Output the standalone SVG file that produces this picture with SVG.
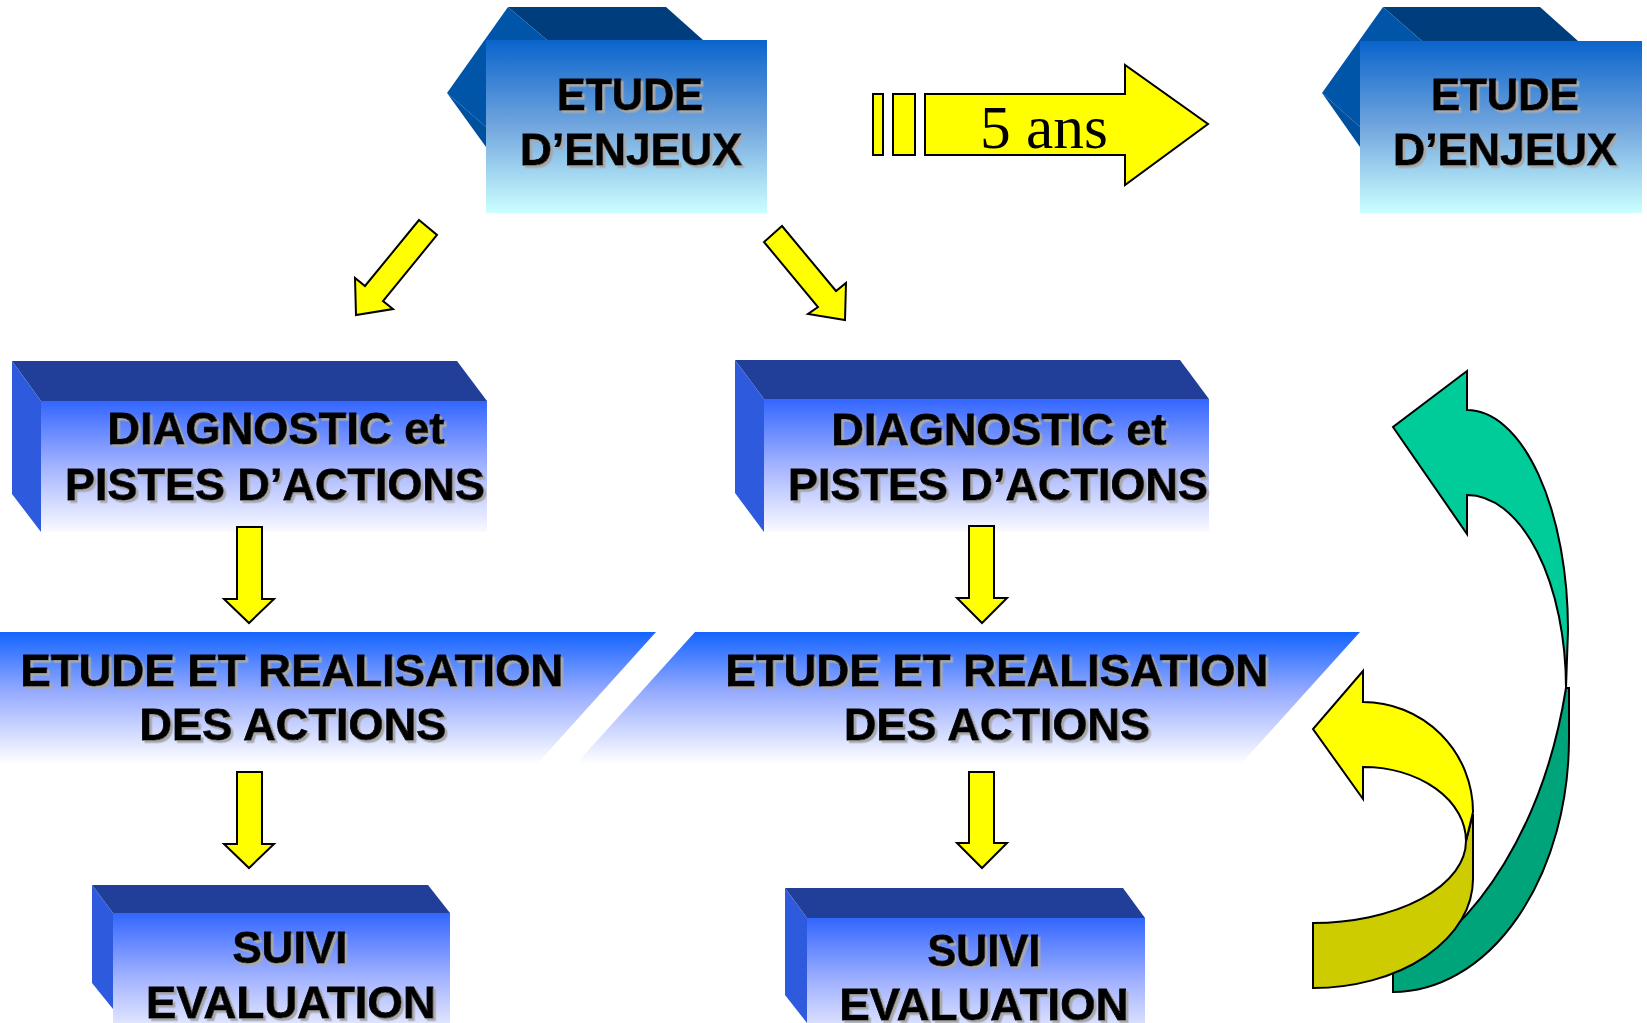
<svg xmlns="http://www.w3.org/2000/svg" width="1647" height="1023" viewBox="0 0 1647 1023">
<defs>
  <linearGradient id="gEnj" x1="0" y1="0" x2="0" y2="1">
    <stop offset="0" stop-color="#0A64CC"/>
    <stop offset="0.5" stop-color="#72A6DE"/>
    <stop offset="1" stop-color="#CCFFFF"/>
  </linearGradient>
  <linearGradient id="gBox" x1="0" y1="0" x2="0" y2="1">
    <stop offset="0" stop-color="#3366FF"/>
    <stop offset="0.5" stop-color="#A3B3FF"/>
    <stop offset="1" stop-color="#FAFAFF"/>
  </linearGradient>
  <linearGradient id="gReal" x1="0" y1="0" x2="0" y2="1">
    <stop offset="0" stop-color="#1464FF"/>
    <stop offset="0.45" stop-color="#95AAFF"/>
    <stop offset="1" stop-color="#FFFFFF"/>
  </linearGradient>
  <filter id="shadow" x="-5%" y="-20%" width="110%" height="140%">
    <feDropShadow dx="2.5" dy="2.5" stdDeviation="0.4" flood-color="#A8A8A8" flood-opacity="1"/>
  </filter>
</defs>
<style>
  .lbl { font-family: "Liberation Sans", Arial, sans-serif; font-weight: bold; font-size: 45px; fill: #000; stroke: #000; stroke-width: 0.8; text-anchor: middle; filter: url(#shadow); }
  .ans { font-family: "Liberation Serif", "Times New Roman", serif; font-size: 62px; fill: #000; text-anchor: middle; }
  .yel { fill: #FFFF00; stroke: #000; stroke-width: 2; stroke-linejoin: miter; }
  .yelD { fill: #CCCC00; stroke: #000; stroke-width: 2; }
  .grnL { fill: #00CC99; stroke: #000; stroke-width: 2; }
  .grnD { fill: #00A47A; stroke: #000; stroke-width: 2; }
  .encTop { fill: #003D7D; }
  .encLeft { fill: #0055A8; }
  .encLeft2 { fill: #0050A0; }
  .boxTop { fill: #213F99; }
  .boxLeft { fill: #2E5BDD; }
</style>

<g id="etude-enjeux-1">
  <polygon class="encTop" points="508,7 666,7 703,40 547,40"/>
  <polygon class="encLeft" points="508,7 547,40 486,40 486,127 447,93"/>
  <polygon class="encLeft2" points="447,93 486,127 486,147"/>
  <rect x="486" y="40" width="281" height="173" fill="url(#gEnj)"/>
  <text class="lbl" x="630" y="110" textLength="146" lengthAdjust="spacingAndGlyphs">ETUDE</text>
  <text class="lbl" x="631" y="165" textLength="222" lengthAdjust="spacingAndGlyphs">D’ENJEUX</text>
</g>

<g id="etude-enjeux-2">
  <polygon class="encTop" points="1383,7 1540,7 1578,41 1422,41"/>
  <polygon class="encLeft" points="1383,7 1422,41 1360,41 1360,127 1322,93"/>
  <polygon class="encLeft2" points="1322,93 1360,127 1360,147"/>
  <rect x="1360" y="41" width="282" height="172" fill="url(#gEnj)"/>
  <text class="lbl" x="1505" y="110" textLength="148" lengthAdjust="spacingAndGlyphs">ETUDE</text>
  <text class="lbl" x="1505" y="165" textLength="224" lengthAdjust="spacingAndGlyphs">D’ENJEUX</text>
</g>

<g id="diagnostic-1">
  <polygon class="boxTop" points="12,361 457,361 487,401 41,401"/>
  <polygon class="boxLeft" points="12,361 41,401 41,532 12,494"/>
  <rect x="41" y="401" width="446" height="131" fill="url(#gBox)"/>
  <text class="lbl" x="276" y="444" textLength="337" lengthAdjust="spacingAndGlyphs">DIAGNOSTIC et</text>
  <text class="lbl" x="275" y="500" textLength="420" lengthAdjust="spacingAndGlyphs">PISTES D’ACTIONS</text>
</g>

<g id="diagnostic-2">
  <polygon class="boxTop" points="735,360 1180,360 1209,399 764,399"/>
  <polygon class="boxLeft" points="735,360 764,399 764,532 735,493"/>
  <rect x="764" y="399" width="445" height="133" fill="url(#gBox)"/>
  <text class="lbl" x="999" y="445" textLength="335" lengthAdjust="spacingAndGlyphs">DIAGNOSTIC et</text>
  <text class="lbl" x="998" y="500" textLength="420" lengthAdjust="spacingAndGlyphs">PISTES D’ACTIONS</text>
</g>

<g id="realisation-1">
  <polygon points="0,632 656,632 537,764 0,764" fill="url(#gReal)"/>
  <text class="lbl" x="292" y="686" textLength="543" lengthAdjust="spacingAndGlyphs">ETUDE ET REALISATION</text>
  <text class="lbl" x="293" y="740" textLength="307" lengthAdjust="spacingAndGlyphs">DES ACTIONS</text>
</g>

<g id="realisation-2">
  <polygon points="695,632 1360,632 1241,764 576,764" fill="url(#gReal)"/>
  <text class="lbl" x="997" y="686" textLength="543" lengthAdjust="spacingAndGlyphs">ETUDE ET REALISATION</text>
  <text class="lbl" x="997" y="740" textLength="306" lengthAdjust="spacingAndGlyphs">DES ACTIONS</text>
</g>

<g id="suivi-1">
  <polygon class="boxTop" points="92,885 428,885 450,913 113,913"/>
  <polygon class="boxLeft" points="92,885 113,913 113,1009 92,983"/>
  <rect x="113" y="913" width="337" height="130" fill="url(#gBox)"/>
  <text class="lbl" x="290" y="963" textLength="115" lengthAdjust="spacingAndGlyphs">SUIVI</text>
  <text class="lbl" x="291" y="1018" textLength="290" lengthAdjust="spacingAndGlyphs">EVALUATION</text>
</g>

<g id="suivi-2">
  <polygon class="boxTop" points="785,888 1123,888 1145,918 807,918"/>
  <polygon class="boxLeft" points="785,888 807,918 807,1023 785,995"/>
  <rect x="807" y="918" width="338" height="130" fill="url(#gBox)"/>
  <text class="lbl" x="984" y="966" textLength="113" lengthAdjust="spacingAndGlyphs">SUIVI</text>
  <text class="lbl" x="984" y="1020" textLength="289" lengthAdjust="spacingAndGlyphs">EVALUATION</text>
</g>

<g id="connectors">
  <!-- 5 ans arrow -->
  <rect class="yel" x="873" y="94" width="10" height="61" stroke-width="1.5"/>
  <rect class="yel" x="893" y="94" width="22" height="61" stroke-width="1.5"/>
  <polygon class="yel" points="925,94 1125,94 1125,65 1208,124 1125,185 1125,155 925,155" stroke-width="1.5"/>
  <text class="ans" x="1044" y="148" textLength="128" lengthAdjust="spacingAndGlyphs">5 ans</text>

  <!-- diagonal arrows -->
  <polygon class="yel" points="419,220 437,235 383,301 393,309 356,315 355,278 365,286"/>
  <polygon class="yel" points="782,226 836,291 846,283 845,320 808,314 818,307 764,242"/>

  <!-- vertical arrows left -->
  <polygon class="yel" points="237,527 262,527 262,599 274,599 249,623 224,599 237,599"/>
  <polygon class="yel" points="237,772 262,772 262,844 274,844 249,868 224,844 237,844"/>
  <!-- vertical arrows right -->
  <polygon class="yel" points="969,526 994,526 994,598 1007,598 982,623 957,598 969,598"/>
  <polygon class="yel" points="969,772 994,772 994,843 1007,843 982,868 957,843 969,843"/>

  <!-- green curved arrow -->
  <path class="grnD" d="M1566,688 L1569,688 L1569,738 A176,254 0 0 1 1393,992 L1393,970 C1480,930 1545,820 1566,688 Z"/>
  <path class="grnL" d="M1467,371 L1393,427 L1467,534 L1467,495 A99,193 0 0 1 1566,688 L1568,630 A101,220 0 0 0 1467,410 Z"/>

  <!-- yellow curved arrow -->
  <path class="yelD" d="M1466,841 L1473,814 L1473,879 A160,109 0 0 1 1313,988 L1313,923 A153,82 0 0 0 1466,841 Z"/>
  <path class="yel" d="M1363,671 L1313,729 L1363,799 L1363,767 A103,74 0 0 1 1466,841 L1473,812 A110,110 0 0 0 1363,702 Z"/>
</g>
</svg>
